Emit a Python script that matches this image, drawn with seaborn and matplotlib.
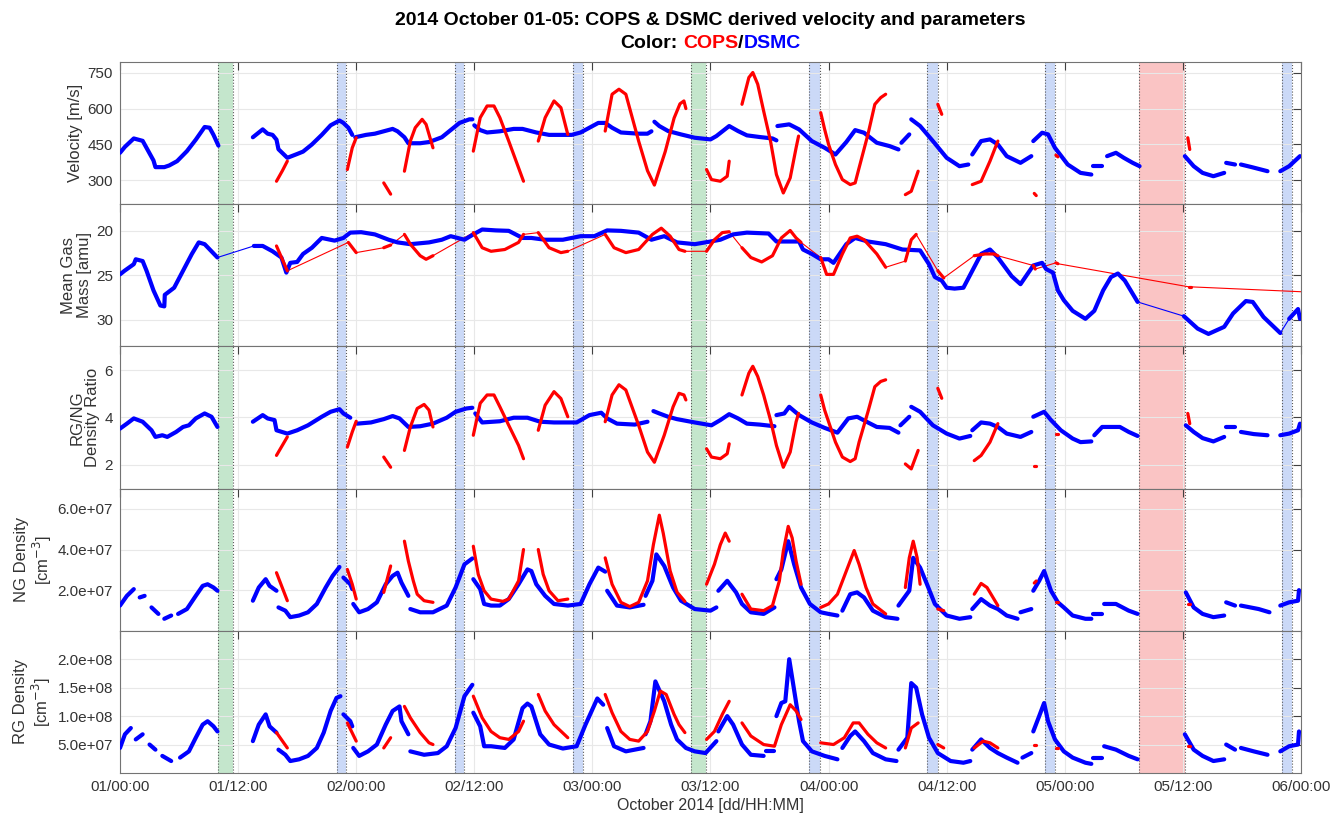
import numpy as np
import pandas as pd
import matplotlib
matplotlib.use('Agg')
import matplotlib.pyplot as plt
import seaborn as sns

nan = np.nan

# 1. Axis setup (x in hours since 2014-10-01 00:00)
xtick_hours = [0, 12, 24, 36, 48, 60, 72, 84, 96, 108, 120]
xtick_labels = ['01/00:00', '01/12:00', '02/00:00', '02/12:00', '03/00:00', '03/12:00',
                '04/00:00', '04/12:00', '05/00:00', '05/12:00', '06/00:00']

green_spans = [(10.0, 11.5), (58.0, 59.5)]
blue_spans = [(22.0, 23.0), (34.0, 35.0), (46.0, 47.0), (70.0, 71.1), (82.0, 83.1), (94.0, 95.0), (118.1, 119.1)]
red_spans = [(103.5, 108.2)]

# 2. Velocity [m/s]
vel_dsmc_h = [0.0, 0.5, 1.4, 2.3, 3.4, 3.6, 4.5, 5.0, 5.8, 6.8, 7.7, 8.6, 9.1, 9.5, 10.0, nan,
              13.5, 14.5, 15.0, 15.5, 15.9, 16.1, 17.0, 18.0, 18.6, 19.5, 20.5, 21.4, 22.3, 22.7, 23.2, 23.6, nan,
              23.9, 25.0, 25.9, 26.8, 27.7, 28.2, 28.9, 29.3, 30.5, 31.4, 32.7, 33.6, 34.5, 35.5, 35.8, nan,
              36.0, 36.6, 37.3, 38.6, 40.0, 40.9, 42.3, 43.6, 45.9, 46.8, 47.7, 48.6, 49.3, 50.0, 50.9, 52.7, 53.6, 54.0, nan,
              54.3, 54.8, 55.7, 57.0, 58.4, 60.0, 60.6, 61.9, 62.8, 63.7, 65.0, 66.3, 66.7, nan,
              66.8, 68.0, 69.0, 70.3, 71.6, 72.7, 73.8, 74.7, 75.6, 76.9, 78.2, 79.1, nan,
              79.4, 80.2, nan,
              80.4, 81.3, 82.6, 84.0, 85.3, 86.2, nan,
              86.6, 87.5, 88.4, 89.2, 90.1, 91.5, 92.6, nan,
              92.8, 93.7, 94.3, 95.0, 96.3, 97.6, 98.7, nan,
              98.9, 99.8, nan,
              100.3, 101.2, 102.0, 102.9, 103.6, nan,
              108.2, 109.1, 110.0, 111.1, 112.2, nan,
              112.4, 113.3, nan,
              113.9, 115.0, 116.6, nan,
              117.9, 118.8, 119.9]
vel_dsmc = [415, 440, 475, 465, 383, 355, 355, 362, 380, 422, 470, 523, 520, 490, 445, nan,
            480, 513, 495, 490, 470, 430, 394, 410, 420, 450, 490, 530, 550, 540, 520, 490, nan,
            480, 490, 495, 505, 515, 505, 480, 455, 455, 460, 480, 510, 540, 555, 555, nan,
            530, 510, 500, 505, 515, 515, 500, 490, 490, 500, 520, 540, 540, 520, 500, 495, 495, 505, nan,
            545, 527, 506, 492, 478, 471, 485, 527, 506, 488, 481, 475, 467, nan,
            527, 534, 513, 464, 436, 408, 460, 510, 499, 457, 443, 429, nan,
            457, 492, nan,
            555, 527, 464, 394, 359, 366, nan,
            408, 464, 471, 450, 401, 373, 401, nan,
            464, 499, 492, 436, 366, 331, 324, nan,
            359, 359, nan,
            401, 415, 394, 373, 359, nan,
            401, 359, 331, 317, 331, nan,
            373, 366, nan,
            366, 355, 338, nan,
            338, 359, 401]

vel_cops_h = [15.9, 16.5, 17.0, nan, 23.1, 23.6, 24.0, nan, 26.8, 27.5, nan,
              28.9, 29.5, 30.0, 30.7, 31.1, 31.6, 31.8, nan,
              35.9, 36.6, 37.3, 38.0, 38.6, 39.5, 40.5, 41.0, nan,
              42.5, 43.2, 44.1, 44.8, 45.5, nan,
              49.3, 50.0, 50.7, 51.4, 52.7, 53.6, 54.3, 55.4, 56.3, 56.9, 57.3, 57.5, nan,
              59.6, 60.1, 61.0, 61.7, 61.9, nan,
              63.2, 63.9, 64.3, 64.8, 65.4, 66.1, 66.7, 67.4, 68.1, 68.7, 68.95, nan,
              71.2, 71.6, 72.0, 72.7, 73.4, 74.2, 74.7, 75.1, 76.0, 76.7, 77.3, 77.8, nan,
              79.8, 80.4, 81.1, nan, 83.1, 83.5, nan,
              86.6, 87.5, 88.4, 89.2, nan,
              92.9, 93.1, nan, 95.1, 95.3, nan, 108.5, 108.7]
vel_cops = [296, 340, 380, nan, 345, 436, 478, nan, 289, 242, nan,
            338, 464, 520, 555, 534, 464, 436, nan,
            422, 562, 611, 611, 562, 464, 352, 296, nan,
            464, 562, 632, 604, 492, nan,
            506, 660, 681, 660, 464, 340, 280, 420, 560, 620, 632, 600, nan,
            345, 303, 296, 317, 380, nan,
            618, 730, 751, 702, 590, 464, 324, 247, 310, 436, 485, nan,
            583, 513, 450, 366, 303, 282, 289, 352, 492, 618, 646, 660, nan,
            240, 254, 338, nan, 618, 576, nan,
            282, 296, 380, 464, nan,
            245, 236, nan, 405, 398, nan, 478, 429]

# 3. Mean gas mass [amu]
mass_dsmc_h = [0.0, 0.45, 1.4, 1.6, 2.3, 2.7, 3.4, 4.1, 4.5, 4.55, 5.5, 6.4, 7.3, 8.0, 8.6, 9.9, nan,
               13.6, 14.5, 15.5, 16.4, 16.9, 17.3, 18.0, 18.6, 19.5, 20.5, 21.8, 22.7, 23.4, 24.5, 25.9,
               27.3, 28.2, 29.5, 31.4, 32.7, 33.6, 35.0, 35.9, 36.8, 38.2, 39.5, 40.9, 41.8, 43.2, 45.0,
               46.8, 48.2, 49.5, 50.9, 52.7, 54.0, 55.3, 56.6, 58.4, 60.0, 61.0, 62.3, 63.7, 65.9, 66.7,
               69.0, 69.4, 70.3, 71.2, 72.0, 72.5, 73.8, 74.7, 76.0, 77.8, 79.5, 81.3, 82.2, 82.8, 83.5,
               84.0, 84.8, 85.7, 86.6, 87.5, 88.4, 89.2, 90.6, 91.5, 92.8, 93.7, 94.1, 94.8, 95.3, 95.9,
               96.8, 98.1, 99.0, 99.9, 100.7, 101.4, 102.1, 103.4, nan,
               108.1, 108.6, 109.5, 110.6, 112.2, 113.1, 114.4, 115.1, 116.2, 117.9, nan,
               118.8, 119.7, 119.9]
mass_dsmc = [24.9, 24.5, 23.75, 23.2, 23.4, 24.5, 26.7, 28.4, 28.5, 27.2, 26.4, 24.5, 22.6, 21.3, 21.5, 23.0, nan,
             21.7, 21.7, 22.3, 23.0, 24.7, 23.6, 23.5, 22.6, 21.9, 20.8, 21.1, 20.8, 20.2, 20.15, 20.4,
             21.0, 21.3, 21.5, 21.3, 21.0, 20.6, 21.0, 20.4, 19.85, 19.95, 20.0, 20.8, 20.8, 21.0, 21.0,
             20.6, 20.6, 19.95, 20.0, 20.2, 21.0, 20.6, 21.3, 21.5, 21.2, 21.0, 20.4, 20.2, 20.3, 21.2,
             21.2, 22.1, 22.6, 23.2, 23.2, 23.6, 21.5, 20.8, 21.2, 21.5, 22.1, 22.2, 23.75, 25.2, 25.6,
             26.4, 26.5, 26.4, 24.5, 22.6, 22.1, 23.0, 25.1, 26.0, 23.9, 23.6, 24.3, 24.7, 26.7, 27.8,
             29.0, 29.9, 29.0, 26.7, 25.2, 24.8, 25.6, 28.0, nan,
             29.6, 30.1, 31.0, 31.6, 30.8, 29.3, 27.9, 28.0, 29.7, 31.5, nan,
             29.9, 28.8, 29.9]

mass_cops_h = [15.9, 17.0, nan, 23.2, 24.0, nan, 26.8, 27.5, nan,
               28.9, 29.5, 30.5, 31.1, 31.8, nan,
               35.9, 36.8, 37.7, 39.1, 40.5, 41.0, nan,
               42.5, 43.6, 44.8, 45.5, nan,
               49.3, 50.2, 51.4, 52.7, 54.1, 55.0, 55.9, 56.8, 57.4, nan,
               59.6, 60.4, 61.2, 61.9, nan,
               63.2, 64.1, 65.2, 66.3, 67.2, 68.1, 68.7, 69.2, nan,
               71.2, 71.8, 72.5, 73.4, 74.2, 74.9, 75.6, 76.9, 77.8, nan,
               79.8, 80.4, 80.9, nan, 83.1, 83.7, nan,
               86.8, 87.9, 88.8, 89.2, nan,
               92.8, 93.0, nan, 95.1, 95.3, nan, 108.6, 108.8, nan, 121.0]
mass_cops = [21.7, 24.5, nan, 21.3, 22.45, nan, 21.9, 21.6, nan,
             20.4, 21.5, 22.8, 23.2, 22.8, nan,
             20.2, 21.9, 22.3, 22.1, 21.3, 20.4, nan,
             20.2, 21.9, 22.45, 22.3, nan,
             20.4, 21.9, 22.45, 22.1, 20.4, 19.7, 20.6, 22.1, 22.3, nan,
             22.3, 21.0, 20.2, 20.1, nan,
             21.9, 23.0, 23.5, 22.8, 20.8, 19.96, 20.8, 21.3, nan,
             23.0, 24.9, 24.9, 22.6, 20.8, 20.6, 21.0, 22.6, 24.1, nan,
             23.4, 21.0, 20.4, nan, 24.5, 25.3, nan,
             22.8, 22.6, 22.6, 22.8, nan,
             23.9, 24.3, nan, 23.6, 23.7, nan, 26.3, 26.3, nan, 26.9]

# 4. RG/NG density ratio
ratio_dsmc_h = [0.0, 0.7, 1.4, 2.3, 3.2, 3.6, 4.3, 4.8, 5.7, 6.4, 7.0, 7.7, 8.6, 9.3, 9.9, nan,
                13.5, 14.5, 15.0, 15.7, 15.9, 17.0, 18.0, 19.1, 20.5, 21.4, 22.3, 22.7, 23.4, nan,
                24.1, 25.5, 26.8, 27.7, 28.4, 29.3, 30.5, 31.8, 33.2, 34.1, 35.2, 35.8, nan,
                36.1, 36.8, 38.6, 40.0, 41.4, 42.7, 44.1, 46.4, 47.7, 48.9, 49.5, 50.5, 52.3, 53.6, nan,
                54.2, 54.8, 55.7, 56.6, 58.4, 60.1, 61.0, 61.9, 62.8, 63.7, 65.0, 66.5, nan,
                66.7, 67.5, 68.0, 69.0, 70.3, 71.6, 72.9, 74.0, 74.9, 76.0, 76.9, 78.2, 79.1, nan,
                79.3, 80.2, nan,
                80.4, 81.3, 82.6, 84.0, 85.3, 86.4, nan,
                86.6, 87.5, 88.4, 89.2, 90.1, 91.5, 92.6, nan,
                92.8, 93.9, 94.6, 95.6, 96.8, 97.6, 98.7, nan,
                99.0, 99.8, 100.7, 101.6, 102.5, 103.4, nan,
                108.3, 109.1, 110.0, 111.1, 112.2, nan,
                112.4, 113.3, nan,
                113.9, 115.2, 116.6, nan,
                117.9, 118.8, 119.7, 119.9]
ratio_dsmc = [3.53, 3.74, 3.96, 3.82, 3.46, 3.18, 3.25, 3.18, 3.39, 3.6, 3.67, 3.96, 4.17, 4.03, 3.6, nan,
              3.82, 4.1, 3.96, 3.89, 3.46, 3.32, 3.46, 3.67, 4.03, 4.24, 4.35, 4.17, 3.99, nan,
              3.74, 3.79, 3.93, 4.06, 3.96, 3.6, 3.63, 3.74, 3.99, 4.24, 4.38, 4.41, nan,
              4.17, 3.79, 3.84, 3.99, 3.99, 3.82, 3.79, 3.79, 4.1, 4.2, 3.96, 3.74, 3.70, 3.82, nan,
              4.27, 4.17, 4.03, 3.93, 3.79, 3.67, 3.89, 4.14, 3.96, 3.74, 3.70, 3.63, nan,
              4.1, 4.17, 4.45, 4.1, 3.79, 3.56, 3.36, 3.96, 4.03, 3.79, 3.6, 3.56, 3.36, nan,
              3.67, 4.03, nan,
              4.45, 4.24, 3.67, 3.32, 3.11, 3.22, nan,
              3.46, 3.79, 3.74, 3.6, 3.32, 3.18, 3.39, nan,
              4.03, 4.24, 3.89, 3.46, 3.11, 2.96, 2.99, nan,
              3.25, 3.6, 3.6, 3.6, 3.39, 3.22, nan,
              3.67, 3.39, 3.13, 2.99, 3.18, nan,
              3.6, 3.6, nan,
              3.39, 3.3, 3.25, nan,
              3.25, 3.32, 3.46, 3.74]

ratio_cops_h = [15.9, 17.0, nan, 23.1, 23.6, 24.0, nan, 26.8, 27.5, nan,
                28.9, 29.5, 30.2, 30.9, 31.4, 31.8, nan,
                35.9, 36.6, 37.3, 38.0, 38.6, 39.5, 40.5, 41.0, nan,
                42.5, 43.2, 44.1, 44.8, 45.5, nan,
                49.3, 50.0, 50.7, 51.4, 52.7, 53.6, 54.3, 55.3, 56.2, 56.8, 57.3, 57.5, nan,
                59.6, 60.1, 61.0, 61.7, 61.9, nan,
                63.2, 63.9, 64.3, 64.8, 65.4, 66.1, 66.7, 67.4, 68.1, 68.7, 68.95, nan,
                71.2, 71.6, 72.0, 72.7, 73.4, 74.2, 74.7, 75.1, 76.0, 76.7, 77.3, 77.8, nan,
                79.8, 80.4, 81.1, nan, 83.1, 83.5, nan,
                86.8, 87.5, 88.4, 89.2, nan,
                92.9, 93.1, nan, 95.1, 95.3, nan, 108.5, 108.7]
ratio_cops = [2.4, 3.18, nan, 2.75, 3.39, 3.84, nan, 2.33, 1.9, nan,
              2.61, 3.6, 4.38, 4.55, 4.31, 3.6, nan,
              3.25, 4.6, 4.95, 4.95, 4.45, 3.67, 2.82, 2.26, nan,
              3.46, 4.52, 5.09, 4.8, 4.03, nan,
              3.82, 4.95, 5.38, 5.16, 3.67, 2.54, 2.11, 3.25, 4.45, 5.02, 4.95, 4.74, nan,
              2.68, 2.33, 2.26, 2.47, 2.89, nan,
              4.95, 5.87, 6.16, 5.73, 4.95, 3.89, 2.82, 1.9, 2.54, 3.82, 4.17, nan,
              4.95, 4.31, 3.82, 2.96, 2.33, 2.14, 2.26, 2.96, 4.24, 5.3, 5.52, 5.59, nan,
              2.04, 1.83, 2.61, nan, 5.23, 4.81, nan,
              2.18, 2.4, 2.96, 3.74, nan,
              1.94, 1.94, nan, 3.32, 3.32, nan, 4.17, 3.74]

# 5. NG density [1e7 cm^-3]
ng_dsmc_h = [0.0, 0.7, 1.4, nan, 2.0, 2.5, nan, 3.2, 3.9, nan, 4.5, 5.2, nan,
             5.9, 6.8, 7.7, 8.4, 8.9, 9.5, 9.9, nan,
             13.5, 14.1, 14.8, 15.2, 15.9, nan,
             16.1, 16.8, 17.3, 18.2, 19.1, 20.0, 20.9, 21.6, 22.3, nan, 22.7, 23.4, 23.6, nan,
             23.7, 24.3, 25.2, 26.1, 27.0, 27.7, 28.2, 28.6, 29.3, nan,
             29.5, 30.5, 31.8, 33.2, 34.1, 35.0, 35.8, nan,
             35.9, 36.6, 37.0, 37.7, 38.6, 39.5, 40.5, 41.4, 41.8, 42.3, 43.2, 44.1, 45.5, 46.8, 47.7, 48.6, 49.3, nan,
             49.5, 50.5, 51.8, 53.2, nan,
             53.4, 54.1, 54.5, 55.3, 56.2, 57.0, 58.4, 60.0, 60.6, nan,
             60.8, 61.7, 62.6, 63.2, 64.1, 65.4, 66.5, nan,
             66.7, 67.2, 67.9, 68.5, 69.2, 70.1, 71.2, 72.0, 72.9, nan,
             73.4, 74.2, 74.9, 75.6, 76.5, 77.8, 79.0, nan,
             79.1, 80.2, 80.6, 81.3, 82.0, 82.8, 84.0, 85.3, 86.4, nan,
             86.6, 87.5, 88.4, 89.2, 90.1, 91.2, nan,
             91.5, 92.6, nan,
             92.8, 93.4, 93.9, 94.6, 95.3, 95.9, 96.8, 98.1, 98.7, nan,
             98.9, 99.8, nan,
             100.0, 101.2, 102.5, 103.4, nan,
             108.3, 109.1, 110.0, 111.1, 112.2, nan,
             112.4, 113.3, nan,
             113.9, 115.7, 116.8, nan,
             117.9, 118.8, 119.7, 119.8]
ng_dsmc = [1.24, 1.72, 2.05, nan, 1.64, 1.72, nan, 1.15, 0.83, nan, 0.59, 0.75, nan,
           0.83, 1.07, 1.72, 2.21, 2.29, 2.13, 1.97, nan,
           1.48, 2.13, 2.54, 2.21, 1.97, nan,
           1.15, 0.99, 0.67, 0.75, 0.91, 1.32, 2.13, 2.70, 3.14, nan, 2.62, 2.29, 2.05, nan,
           1.32, 0.91, 1.07, 1.40, 2.29, 2.70, 2.86, 2.37, 1.72, nan,
           1.07, 0.91, 0.91, 1.24, 2.13, 3.27, 3.56, nan,
           2.54, 2.05, 1.32, 1.24, 1.24, 1.56, 2.29, 3.02, 2.94, 2.29, 1.72, 1.32, 1.24, 1.32, 2.29, 3.11, 2.91, nan,
           1.97, 1.24, 1.15, 1.28, nan,
           1.72, 2.46, 3.76, 3.19, 2.13, 1.48, 1.07, 0.99, 1.15, nan,
           1.97, 2.46, 1.89, 1.32, 0.91, 0.83, 1.15, nan,
           2.54, 3.02, 4.41, 3.27, 2.13, 1.32, 0.91, 0.83, 0.75, nan,
           0.99, 1.80, 1.89, 1.64, 0.99, 0.67, 0.59, nan,
           1.24, 1.97, 3.59, 3.11, 2.29, 1.32, 0.75, 0.59, 0.67, nan,
           1.07, 1.56, 1.24, 1.07, 0.75, 0.59, nan,
           0.91, 1.07, nan,
           1.97, 2.46, 2.94, 1.97, 1.40, 1.15, 0.75, 0.59, 0.59, nan,
           0.83, 0.83, nan,
           1.32, 1.32, 0.99, 0.83, nan,
           1.89, 1.15, 0.83, 0.67, 0.75, nan,
           1.40, 1.24, nan,
           1.24, 1.07, 0.91, nan,
           1.24, 1.40, 1.48, 2.0]

ng_cops_h = [15.9, 17.0, nan, 23.1, 23.6, 24.0, nan, 26.8, 27.5, nan,
             28.9, 29.3, 29.8, 30.2, 30.9, 31.8, nan,
             35.9, 36.4, 37.0, 37.7, 38.9, 39.5, 40.5, 41.0, nan,
             42.5, 43.0, 43.6, 44.5, 45.5, nan,
             49.3, 50.0, 50.9, 51.8, 52.7, 53.6, 54.2, 54.8, 55.2, 55.9, 56.6, 57.4, nan,
             59.6, 60.4, 61.0, 61.5, 61.9, nan,
             63.2, 64.1, 65.4, 66.3, 67.0, 67.4, 67.9, 68.3, 68.7, 69.2, nan,
             71.2, 72.0, 72.9, 73.8, 74.6, 75.1, 75.8, 76.5, 77.8, nan,
             79.8, 80.2, 80.6, 81.0, 81.3, nan, 83.1, 83.7, nan,
             86.8, 87.5, 88.1, 89.2, nan,
             92.9, 93.1, nan, 95.1, 95.3, nan, 108.5, 108.7]
ng_cops = [2.86, 1.48, nan, 3.02, 2.29, 1.56, nan, 1.89, 3.19, nan,
           4.41, 3.43, 2.46, 1.80, 1.48, 1.40, nan,
           4.16, 2.78, 1.97, 1.56, 1.45, 1.56, 2.46, 4.0, nan,
           4.0, 2.78, 1.97, 1.48, 1.56, nan,
           3.59, 2.29, 1.40, 1.19, 1.40, 2.46, 4.24, 5.69, 4.8, 2.95, 1.9, 1.44, nan,
           2.29, 3.27, 4.24, 4.81, 4.41, nan,
           1.8, 1.07, 0.99, 1.24, 2.46, 3.92, 5.14, 4.57, 3.43, 2.29, nan,
           1.15, 1.32, 1.80, 2.94, 3.95, 3.27, 2.13, 1.32, 0.83, nan,
           2.13, 3.59, 4.41, 3.59, 2.29, nan, 1.07, 0.99, nan,
           1.8, 2.33, 2.13, 1.24, nan,
           2.35, 2.45, nan, 1.40, 1.40, nan, 1.32, 1.32]

# 6. RG density [1e8 cm^-3]
rg_dsmc_h = [0.0, 0.5, 1.1, nan, 1.6, 2.3, nan, 3.0, 3.6, nan, 4.3, 5.2, nan,
             6.1, 7.0, 7.7, 8.4, 8.9, 9.5, 9.9, nan,
             13.5, 14.1, 14.8, 15.2, 15.9, nan,
             16.1, 16.8, 17.3, 18.2, 19.1, 20.0, 20.7, 21.4, 22.0, 22.4, nan, 22.7, 23.4, 23.6, nan,
             23.7, 24.3, 25.2, 26.1, 27.0, 27.7, 28.4, 28.6, 29.3, nan,
             29.5, 30.9, 32.3, 33.2, 34.1, 35.0, 35.8, nan,
             35.9, 36.6, 37.0, 37.7, 39.1, 40.0, 40.9, 41.4, 41.8, 42.7, 43.6, 45.0, 46.4, 47.3, 48.5, 49.1, nan,
             49.5, 50.2, 51.4, 53.2, nan,
             53.4, 53.9, 54.4, 55.3, 56.0, 56.6, 57.5, 58.4, 59.5, 60.6, nan,
             60.8, 61.7, 62.3, 63.2, 64.1, 65.4, nan,
             65.6, 66.5, nan,
             66.7, 67.2, 67.6, 68.0, 69.0, 69.4, 70.3, 71.6, 72.9, nan,
             73.4, 74.2, 74.7, 75.6, 76.5, 77.8, 78.9, nan,
             79.1, 80.0, 80.4, 80.9, 81.5, 82.2, 83.1, 84.4, 85.7, 86.4, nan,
             86.6, 87.5, 88.4, 89.2, 90.1, 91.2, nan,
             91.7, 92.6, nan,
             92.8, 93.4, 93.9, 94.3, 95.0, 95.9, 96.8, 98.1, 98.7, nan,
             98.9, 99.8, nan,
             100.0, 101.2, 102.5, 103.4, nan,
             108.2, 109.1, 110.0, 111.1, 112.2, nan,
             112.4, 113.3, nan,
             113.9, 115.2, 116.6, nan,
             117.9, 118.8, 119.7, 119.8]
rg_dsmc = [0.44, 0.68, 0.79, nan, 0.59, 0.68, nan, 0.5, 0.41, nan, 0.3, 0.21, nan,
           0.27, 0.38, 0.62, 0.85, 0.91, 0.82, 0.73, nan,
           0.56, 0.85, 1.03, 0.82, 0.71, nan,
           0.41, 0.32, 0.21, 0.24, 0.3, 0.44, 0.71, 1.09, 1.32, 1.35, nan, 1.03, 0.91, 0.82, nan,
           0.44, 0.3, 0.38, 0.5, 0.85, 1.09, 1.17, 0.91, 0.68, nan,
           0.38, 0.32, 0.35, 0.47, 0.79, 1.35, 1.55, nan,
           1.06, 0.82, 0.47, 0.47, 0.44, 0.59, 1.14, 1.22, 1.17, 0.68, 0.5, 0.43, 0.47, 0.85, 1.31, 1.2, nan,
           0.79, 0.47, 0.38, 0.44, nan,
           0.68, 0.91, 1.61, 1.26, 0.85, 0.59, 0.44, 0.38, 0.35, 0.56, nan,
           0.73, 1.0, 0.85, 0.5, 0.32, 0.3, nan,
           0.38, 0.38, nan,
           1.0, 1.23, 1.26, 2.0, 0.91, 0.56, 0.38, 0.3, 0.24, nan,
           0.44, 0.65, 0.73, 0.56, 0.35, 0.24, 0.21, nan,
           0.41, 0.62, 1.58, 1.5, 1.03, 0.62, 0.35, 0.21, 0.18, 0.21, nan,
           0.41, 0.59, 0.44, 0.35, 0.27, 0.18, nan,
           0.27, 0.35, nan,
           0.73, 1.0, 1.23, 0.91, 0.59, 0.38, 0.27, 0.18, 0.16, nan,
           0.27, 0.27, nan,
           0.47, 0.41, 0.3, 0.24, nan,
           0.68, 0.41, 0.3, 0.21, 0.24, nan,
           0.5, 0.41, nan,
           0.44, 0.38, 0.32, nan,
           0.38, 0.47, 0.5, 0.73]

rg_cops_h = [15.9, 17.0, nan, 23.1, 24.0, nan, 26.8, 27.5, nan,
             28.9, 29.5, 30.5, 31.4, 31.8, nan,
             35.9, 36.8, 37.7, 38.6, 39.5, 40.5, 41.0, nan,
             42.5, 43.2, 44.1, 45.5, nan,
             49.3, 50.0, 50.9, 51.8, 52.7, 53.6, 54.3, 54.9, 55.5, 56.3, 56.8, 57.4, nan,
             59.6, 60.4, 61.2, 61.9, nan,
             63.2, 64.1, 65.4, 66.5, 67.2, 68.1, 68.7, 69.2, nan,
             71.2, 72.5, 73.6, 74.5, 75.1, 76.0, 76.9, 77.8, nan,
             79.8, 80.4, 81.1, nan, 83.1, 83.7, nan,
             86.8, 87.7, 88.4, 89.2, nan,
             92.9, 93.1, nan, 95.1, 95.3, nan, 108.5, 108.7]
rg_cops = [0.71, 0.44, nan, 0.88, 0.56, nan, 0.44, 0.62, nan,
           1.17, 0.97, 0.71, 0.53, 0.5, nan,
           1.35, 0.97, 0.73, 0.62, 0.59, 0.73, 0.91, nan,
           1.38, 1.09, 0.85, 0.62, nan,
           1.38, 1.06, 0.73, 0.59, 0.56, 0.73, 1.09, 1.44, 1.38, 1.03, 0.85, 0.71, nan,
           0.59, 0.73, 1.03, 1.26, nan,
           0.88, 0.65, 0.5, 0.47, 0.85, 1.2, 1.09, 0.94, nan,
           0.53, 0.5, 0.62, 0.88, 0.88, 0.68, 0.53, 0.44, nan,
           0.44, 0.79, 0.88, nan, 0.5, 0.44, nan,
           0.44, 0.56, 0.53, 0.44, nan,
           0.5, 0.5, nan, 0.44, 0.44, nan, 0.47, 0.47]

# panel settings
ylabels = ['Velocity [m/s]', 'Mean Gas\nMass [amu]', 'RG/NG\nDensity Ratio',
           'NG Density\n[cm$^{-3}$]', 'RG Density\n[cm$^{-3}$]']
yticks = [[300, 450, 600, 750], [20, 25, 30], [2, 4, 6],
          [2e7, 4e7, 6e7], [5e7, 1e8, 1.5e8, 2e8]]
ytick_labels = [['300', '450', '600', '750'], ['20', '25', '30'], ['2', '4', '6'],
                ['2.0e+07', '4.0e+07', '6.0e+07'], ['5.0e+07', '1.0e+08', '1.5e+08', '2.0e+08']]
ylims = [(200, 795), (33, 17), (1, 7), (0, 7e7), (0, 2.5e8)]


def to_frame(h, v, scale=1.0):
    df = pd.DataFrame({'h': h, 'v': np.array(v, dtype=float) * scale})
    df['seg'] = df['h'].isna().cumsum()
    return df.dropna()


panels = [
    (to_frame(vel_dsmc_h, vel_dsmc), to_frame(vel_cops_h, vel_cops)),
    (to_frame(mass_dsmc_h, mass_dsmc), to_frame(mass_cops_h, mass_cops)),
    (to_frame(ratio_dsmc_h, ratio_dsmc), to_frame(ratio_cops_h, ratio_cops)),
    (to_frame(ng_dsmc_h, ng_dsmc, 1e7), to_frame(ng_cops_h, ng_cops, 1e7)),
    (to_frame(rg_dsmc_h, rg_dsmc, 1e8), to_frame(rg_cops_h, rg_cops, 1e8)),
]

# 7. Plot
sns.set_theme(style='white')
plt.rcParams['font.family'] = ['Liberation Sans', 'DejaVu Sans']
text_col = '#333333'

fig, axes = plt.subplots(5, 1, figsize=(13.32, 8.21), dpi=100, sharex=True)
fig.subplots_adjust(left=0.0901, right=0.9767, top=0.9245, bottom=0.0585, hspace=0)

for i, ax in enumerate(axes):
    dsmc, cops = panels[i]

    for a, b in green_spans:
        ax.axvspan(a, b, color='#c4e6cc', lw=0, zorder=0.5)
    for a, b in blue_spans:
        ax.axvspan(a, b, color='#cbd9f7', lw=0, zorder=0.5)
    for a, b in red_spans:
        ax.axvspan(a, b, color='#fac4c4', lw=0, zorder=0.5)
    for a, b in green_spans + blue_spans + red_spans:
        for xe in (a, b):
            ax.axvline(xe, color='0.35', ls=':', lw=0.8, zorder=0.6)

    if i == 1:
        # mass panel: samples joined by thin lines across gaps
        sns.lineplot(data=dsmc, x='h', y='v', estimator=None, color='blue', lw=0.8, ax=ax, legend=False)
        sns.lineplot(data=cops, x='h', y='v', estimator=None, color='red', lw=0.8, ax=ax, legend=False)

    sns.lineplot(data=dsmc, x='h', y='v', units='seg', estimator=None, color='blue', lw=3.0,
                 solid_capstyle='round', solid_joinstyle='round', ax=ax, legend=False, zorder=3)
    sns.lineplot(data=cops, x='h', y='v', units='seg', estimator=None, color='red', lw=2.3,
                 solid_capstyle='round', solid_joinstyle='round', ax=ax, legend=False, zorder=4)

    ax.set_xlim(0, 120)
    ax.set_ylim(*ylims[i])
    ax.set_yticks(yticks[i])
    ax.set_yticklabels(ytick_labels[i])
    ax.set_xticks(xtick_hours)
    ax.grid(True, color='0.91', lw=0.8)
    ax.set_axisbelow(True)
    ax.tick_params(axis='both', direction='in', length=6, width=0.8, color='0.25',
                   top=True, right=True, labelsize=11, labelcolor=text_col, pad=5)
    for sp in ax.spines.values():
        sp.set_color('0.45')
        sp.set_linewidth(0.8)
    ax.set_ylabel(ylabels[i], fontsize=12, color=text_col, labelpad=3, linespacing=1.1)
    ax.set_xlabel('')

axes[-1].set_xticklabels(xtick_labels)
axes[-1].set_xlabel('October 2014 [dd/HH:MM]', fontsize=11.5, color=text_col, labelpad=3)

# 8. Title (two lines, second one coloured)
cx = (axes[0].get_position().x0 + axes[0].get_position().x1) / 2
fig.text(cx, 1 - 20.5 / 821, '2014 October 01-05: COPS & DSMC derived velocity and parameters',
         ha='center', va='center', fontsize=14, fontweight='bold', color='black')

pieces = [('Color:', 'black'), ('COPS', 'red'), ('/', 'black'), ('DSMC', 'blue')]
y2 = 1 - 44 / 821
fig.canvas.draw()
renderer = fig.canvas.get_renderer()
texts = [fig.text(0, y2, s, ha='left', va='center', fontsize=14, fontweight='bold', color=c)
         for s, c in pieces]
widths = [t.get_window_extent(renderer).width for t in texts]
gap = 5.5
total = sum(widths) + gap
x = cx * fig.bbox.width - total / 2
for j, t in enumerate(texts):
    t.set_x(x / fig.bbox.width)
    x += widths[j] + (gap if j == 0 else 0)

fig.savefig('out.png', dpi=100)
